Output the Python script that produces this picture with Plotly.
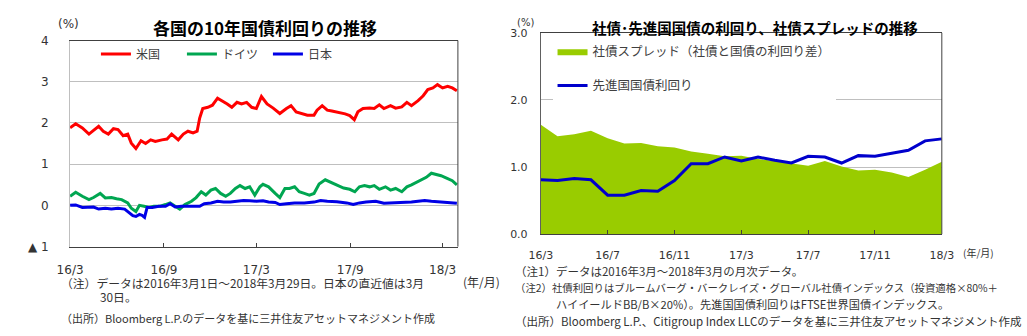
import pandas as pd
import plotly.graph_objects as go

# ---------------- data: left chart (daily 10y yields) ----------------
base = pd.Timestamp("2016-03-01")

us_day = [0, 11, 24, 37, 46, 56, 65, 75, 85, 94, 104, 113, 120, 129, 139, 148, 158, 167, 180, 190,
          199, 212, 222, 231, 241, 249, 254, 260, 270, 279, 289, 298, 308, 317, 327, 336, 346, 356,
          365, 375, 386, 398, 411, 424, 433, 443, 456, 465, 478, 484, 494, 504, 513, 526, 539, 548,
          557, 564, 574, 587, 596, 606, 615, 628, 638, 650, 660, 669, 682, 692, 701, 711, 720, 730,
          740, 749, 758]
us_val = [1.88, 1.98, 1.88, 1.73, 1.82, 1.92, 1.80, 1.73, 1.86, 1.84, 1.69, 1.73, 1.51, 1.38, 1.57,
          1.50, 1.59, 1.55, 1.59, 1.61, 1.73, 1.59, 1.73, 1.80, 1.76, 1.80, 2.12, 2.35, 2.38, 2.43,
          2.60, 2.54, 2.46, 2.38, 2.50, 2.46, 2.50, 2.38, 2.35, 2.64, 2.46, 2.36, 2.23, 2.35, 2.42,
          2.27, 2.23, 2.19, 2.19, 2.31, 2.42, 2.31, 2.29, 2.26, 2.22, 2.18, 2.08, 2.27, 2.35, 2.36,
          2.35, 2.44, 2.35, 2.42, 2.36, 2.39, 2.50, 2.42, 2.54, 2.66, 2.81, 2.85, 2.93, 2.85, 2.89,
          2.85, 2.78]

de_day = [0, 11, 24, 37, 46, 59, 69, 81, 91, 101, 113, 120, 129, 136, 145, 155, 164, 177, 187, 196,
          206, 215, 225, 238, 247, 257, 266, 276, 285, 295, 305, 314, 324, 333, 343, 352, 362, 372,
          378, 389, 402, 411, 421, 430, 440, 449, 459, 469, 478, 488, 500, 510, 523, 536, 548, 558,
          567, 577, 587, 596, 606, 618, 628, 638, 650, 660, 669, 679, 689, 698, 708, 717, 727, 740,
          749, 758]
de_val = [0.22, 0.32, 0.22, 0.14, 0.19, 0.29, 0.18, 0.19, 0.16, 0.14, 0.06, -0.07, -0.15, 0.00,
          -0.02, -0.05, -0.02, -0.02, 0.02, 0.06, -0.02, -0.09, 0.02, 0.10, 0.19, 0.33, 0.25, 0.37,
          0.41, 0.29, 0.22, 0.29, 0.41, 0.48, 0.41, 0.45, 0.25, 0.45, 0.51, 0.45, 0.29, 0.19, 0.41,
          0.41, 0.45, 0.33, 0.29, 0.25, 0.29, 0.52, 0.62, 0.56, 0.50, 0.42, 0.39, 0.33, 0.45, 0.48,
          0.45, 0.48, 0.39, 0.45, 0.37, 0.41, 0.33, 0.45, 0.50, 0.56, 0.64, 0.68, 0.78, 0.75, 0.72,
          0.65, 0.60, 0.50]

jp_day = [0, 11, 24, 37, 46, 56, 69, 81, 94, 107, 116, 123, 129, 136, 141, 146, 151, 161, 174, 187,
          196, 206, 218, 231, 244, 254, 263, 276, 289, 301, 314, 327, 340, 352, 365, 378, 389, 402,
          411, 424, 440, 459, 478, 491, 504, 523, 542, 555, 567, 580, 599, 615, 631, 650, 669, 682,
          695, 708, 724, 740, 758]
jp_val = [0.00, 0.01, -0.05, -0.05, -0.04, -0.09, -0.07, -0.09, -0.07, -0.09, -0.17, -0.25, -0.27,
          -0.22, -0.24, -0.29, -0.05, -0.05, -0.02, -0.02, 0.04, -0.04, -0.02, -0.02, -0.02, -0.02,
          0.04, 0.06, 0.10, 0.08, 0.08, 0.10, 0.12, 0.11, 0.10, 0.11, 0.08, 0.07, 0.02, 0.04, 0.06,
          0.06, 0.08, 0.12, 0.10, 0.09, 0.06, 0.02, 0.06, 0.08, 0.10, 0.05, 0.06, 0.06, 0.08, 0.10,
          0.12, 0.10, 0.08, 0.06, 0.05]

left_tick_dates = ["2016-03-01", "2016-09-01", "2017-03-01", "2017-09-01", "2018-03-01"]
left_tick_text = ["16/3", "16/9", "17/3", "17/9", "18/3"]
left_y_vals = [-1, 0, 1, 2, 3, 4]
left_y_text = ["▲ 1", "0", "1", "2", "3", "4"]

# ---------------- data: right chart (monthly) ----------------
months = ["16/3", "16/4", "16/5", "16/6", "16/7", "16/8", "16/9", "16/10", "16/11", "16/12",
          "17/1", "17/2", "17/3", "17/4", "17/5", "17/6", "17/7", "17/8", "17/9", "17/10",
          "17/11", "17/12", "18/1", "18/2", "18/3"]
spread = [1.63, 1.46, 1.49, 1.54, 1.43, 1.35, 1.36, 1.31, 1.29, 1.23, 1.20, 1.16, 1.17,
          1.12, 1.09, 1.06, 1.02, 1.09, 1.01, 0.95, 0.96, 0.92, 0.85, 0.96, 1.08]
gov = [0.81, 0.80, 0.83, 0.81, 0.58, 0.58, 0.65, 0.64, 0.80, 1.05, 1.05, 1.15, 1.09,
       1.15, 1.10, 1.06, 1.16, 1.15, 1.06, 1.17, 1.16, 1.20, 1.25, 1.39, 1.42]
right_y_vals = [0, 1, 2, 3]
right_y_text = ["0.0", "1.0", "2.0", "3.0"]

# ---------------- figure ----------------
W, H = 1027, 336
JP = "Noto Sans CJK JP"
NUM = "DejaVu Sans"
DARK = "#404040"
GRID = "#BFBFBF"


def fx(p):
    return p / W


def fy(p):
    return 1 - p / H


def to_dates(days):
    return list(base + pd.to_timedelta(days, unit="D"))


fig = go.Figure()
fig.add_trace(go.Scatter(x=to_dates(us_day), y=us_val, mode="lines", name="米国",
                         line=dict(color="#FF0000", width=3), xaxis="x", yaxis="y", legend="legend"))
fig.add_trace(go.Scatter(x=to_dates(de_day), y=de_val, mode="lines", name="ドイツ",
                         line=dict(color="#00A651", width=3), xaxis="x", yaxis="y", legend="legend"))
fig.add_trace(go.Scatter(x=to_dates(jp_day), y=jp_val, mode="lines", name="日本",
                         line=dict(color="#0000E6", width=3), xaxis="x", yaxis="y", legend="legend"))

idx = list(range(len(months)))
fig.add_trace(go.Scatter(x=idx, y=spread, mode="lines", fill="tozeroy", fillcolor="#99CC00",
                         line=dict(width=0, color="#99CC00"), name="社債スプレッド（社債と国債の利回り差）",
                         xaxis="x2", yaxis="y2", legend="legend2", legendgroup="a"))
fig.add_trace(go.Scatter(x=idx, y=gov, mode="lines", line=dict(color="#0000CC", width=3),
                         name="先進国国債利回り", xaxis="x2", yaxis="y2", legend="legend2",
                         legendgroup="b"))

fig.update_layout(
    width=W, height=H,
    margin=dict(l=0, r=0, t=0, b=0),
    paper_bgcolor="white", plot_bgcolor="white",
    font=dict(family=JP, size=12, color="#333333"),
    showlegend=True,
    xaxis=dict(domain=[fx(58.5), fx(456)], anchor="y", type="date",
               range=["2016-03-01", "2018-03-31"],
               tickvals=left_tick_dates, ticktext=left_tick_text,
               ticks="inside", ticklen=4, tickcolor=DARK, tickwidth=1,
               showline=True, linecolor=DARK, linewidth=1, mirror=True,
               showgrid=False, zeroline=False,
               tickfont=dict(family=NUM, size=12, color="#333333"), ticklabelstandoff=12),
    yaxis=dict(domain=[fy(250), fy(35)], anchor="x", range=[-1, 4],
               tickvals=left_y_vals, ticktext=left_y_text, ticks="",
               showgrid=True, gridcolor=GRID, gridwidth=1,
               showline=True, linecolor=GRID, zeroline=False,
               tickfont=dict(family=NUM, size=12, color="#333333"), ticklabelstandoff=18),
    xaxis2=dict(domain=[fx(541), fx(952)], anchor="y2", range=[0, len(months) - 1],
                tickvals=idx[::4], ticktext=months[::4],
                ticks="inside", ticklen=4, tickcolor=DARK, tickwidth=1,
                showline=True, linecolor=DARK, linewidth=1, mirror=True,
                showgrid=False, zeroline=False,
                tickfont=dict(family=NUM, size=11, color="#333333"), ticklabelstandoff=11),
    yaxis2=dict(domain=[fy(237), fy(27)], anchor="x2", range=[0, 3],
                tickvals=right_y_vals, ticktext=right_y_text, ticks="",
                showgrid=True, gridcolor=GRID, gridwidth=1,
                showline=True, linecolor="#606060", zeroline=False,
                tickfont=dict(family=NUM, size=11, color="#333333"), ticklabelstandoff=10),
    legend=dict(orientation="h", x=fx(85), xanchor="left", y=fy(49), yanchor="middle",
                bgcolor="rgba(0,0,0,0)", font=dict(family=JP, size=12, color="#404040"),
                entrywidthmode="pixels", entrywidth=41, itemwidth=30),
    legend2=dict(orientation="v", x=fx(553), xanchor="left", y=fy(31), yanchor="top",
                 bgcolor="white", font=dict(family=JP, size=12.5, color="#404040"),
                 tracegroupgap=15, traceorder="grouped", itemwidth=30),
)

shapes = []
for xr, yr in (("x", "y"), ("x2", "y2")):
    shapes.append(dict(type="line", xref=xr + " domain", yref=yr + " domain",
                       x0=1, x1=1, y0=0, y1=1, line=dict(color=DARK, width=1)))
fig.update_layout(shapes=shapes)

ann = []


def note(text, x, y, size=12, family=JP, anchor="left", bold=False, color="#333333"):
    ann.append(dict(text=("<b>%s</b>" % text) if bold else text, x=fx(x), y=fy(y),
                    xref="paper", yref="paper", xanchor=anchor, yanchor="middle",
                    showarrow=False, font=dict(family=family, size=size, color=color)))


note("各国の10年国債利回りの推移", 258, 21, size=17, anchor="center", bold=True, color="#000000")
note("社債･先進国国債の利回り、社債スプレッドの推移", 761, 21, size=14.5, anchor="center", bold=True,
     color="#000000")
note("(%)", 57, 18, size=12, family=NUM, anchor="center")
note("(%)", 525, 16, size=10, family=NUM, anchor="center")
note("(年/月)", 480, 286, size=12, anchor="center")
note("(年/月)", 990, 256, size=10, anchor="center")

note("（注）データは2016年3月1日～2018年3月29日。日本の直近値は3月", 47, 287, size=11.8)
note("30日。", 87, 302, size=11.8)
note("（出所）Bloomberg L.P.のデータを基に三井住友アセットマネジメント作成", 47, 325, size=11)

note("（注1）データは2016年3月～2018年3月の月次データ。", 512, 275, size=11.5)
note("（注2）社債利回りはブルームバーグ・バークレイズ・グローバル社債インデックス（投資適格×80%＋", 512, 293, size=10.4)
note("ハイイールドBB/B×20%）。先進国国債利回りはFTSE世界国債インデックス。", 554, 310, size=11.2)
note("（出所）Bloomberg L.P.、Citigroup Index LLCのデータを基に三井住友アセットマネジメント作成", 512, 328,
     size=11.5)

fig.update_layout(annotations=ann)
fig.write_html("out.html")
